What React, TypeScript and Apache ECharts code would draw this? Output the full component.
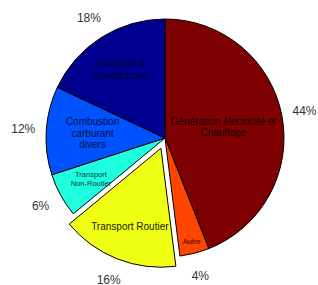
import React, { useEffect, useRef } from 'react';
import * as echarts from 'echarts';

const categories = [
  'Génération électricité et\nChauffage',
  'Autre',
  'Transport Routier',
  'Transport\nNon-Routier',
  'Combustion\ncarburant\ndivers',
  'Industrie &\nConstruction',
];
const shares = [44, 4, 16, 6, 12, 18];
const exploded = [false, false, true, false, false, false];

// style settings
const sliceColors = ['#7f0000', '#ff4500', '#eeff14', '#1effe0', '#0052ff', '#000090'];
const nameLabelRadius = [0.5, 0.9, 0.71, 0.71, 0.61, 0.68];
const nameFontSize = [10, 7.5, 10, 7.5, 10, 10];
const nameColor = ['#1a0000', '#3a0000', '#1a1a00', '#004040', '#001040', '#000030'];

const CX = 165;
const CY = 138;
const R = 119;
const OFFSET = 11;
const PCT_DIST = 142;
const FONT = 'Liberation Sans, Arial, sans-serif';

function midDir(i: number) {
  const total = shares.reduce((a, b) => a + b, 0);
  let cum = 0;
  for (let k = 0; k < i; k++) cum += shares[k];
  const theta = ((cum + shares[i] / 2) / total) * Math.PI * 2;
  return { dx: Math.sin(theta), dy: -Math.cos(theta) };
}

const overlay = (formatter: string, labelData: any[], distFn: (i: number) => number, extraLabel: any) => ({
  type: 'pie',
  center: [CX, CY],
  radius: [0, R],
  startAngle: 90,
  clockwise: true,
  silent: true,
  avoidLabelOverlap: false,
  itemStyle: { color: 'rgba(0,0,0,0)', borderWidth: 0 },
  label: { show: true, position: 'inside', formatter, fontFamily: FONT, ...extraLabel },
  labelLine: { show: false },
  labelLayout: (p: any) => {
    const i = p.dataIndex;
    const { dx, dy } = midDir(i);
    const d = distFn(i) + (exploded[i] ? OFFSET : 0);
    return { x: CX + dx * d, y: CY + dy * d, align: 'center', verticalAlign: 'middle' };
  },
  emphasis: { disabled: true },
  data: labelData,
});

export default function App() {
  const ref = useRef<HTMLDivElement>(null);
  useEffect(() => {
    document.body.style.margin = '0';
    if (!ref.current) return;
    const chart = echarts.init(ref.current, undefined, { renderer: 'svg' });
    const sliceData = categories.map((name, i) => ({
      name,
      value: shares[i],
      selected: exploded[i],
      itemStyle: { color: sliceColors[i] },
    }));
    const nameData = categories.map((name, i) => ({
      name,
      value: shares[i],
      label: { fontSize: nameFontSize[i], color: nameColor[i], lineHeight: nameFontSize[i] * 1.15 },
    }));
    const pctData = categories.map((name, i) => ({ name, value: shares[i] }));
    chart.setOption({
      animation: false,
      series: [
        {
          type: 'pie',
          center: [CX, CY],
          radius: [0, R],
          startAngle: 90,
          clockwise: true,
          selectedMode: 'multiple',
          selectedOffset: OFFSET,
          itemStyle: { borderColor: '#000', borderWidth: 1 },
          label: { show: false },
          labelLine: { show: false },
          emphasis: { disabled: true },
          data: sliceData,
        },
        overlay('{b}', nameData, (i) => R * nameLabelRadius[i], {}),
        overlay('{c}%', pctData, () => PCT_DIST, { fontSize: 12, color: '#333' }),
      ],
    });
    return () => chart.dispose();
  }, []);
  return <div ref={ref} style={{ width: 318, height: 285 }} />;
}
